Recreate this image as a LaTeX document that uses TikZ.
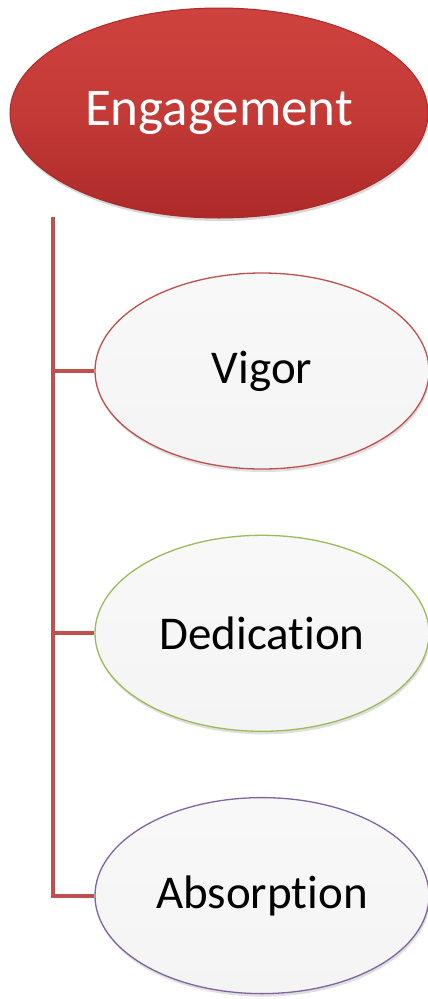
\documentclass[tikz,border=0pt]{standalone}
\usepackage{fontspec}
\setmainfont{Carlito}[RawFeature={-liga;-clig;-calt;-dlig}]
\usetikzlibrary{positioning,shapes.geometric,shadows}
\definecolor{rootred}{RGB}{196,58,55}
\definecolor{rootdark}{RGB}{172,42,40}
\definecolor{rootlight}{RGB}{206,66,62}
\definecolor{linkred}{RGB}{192,80,77}
\definecolor{leafgray}{RGB}{244,244,244}
\definecolor{vigorred}{RGB}{192,80,77}
\definecolor{dedgreen}{RGB}{155,187,89}
\definecolor{abspurple}{RGB}{128,100,162}
\tikzset{
 root/.style={ellipse,draw=rootdark,line width=1pt,top color=rootlight,bottom color=rootdark,middle color=rootred,minimum width=418pt,minimum height=210pt,inner sep=0pt,text=white,font=\fontsize{53}{60}\selectfont,drop shadow={opacity=0.3,shadow xshift=1pt,shadow yshift=-3pt}},
 leaf/.style={ellipse,line width=1.3pt,top color=leafgray!60!white,bottom color=leafgray,minimum width=334pt,minimum height=196pt,inner sep=0pt,text=black,font=\fontsize{47}{54}\selectfont,drop shadow={opacity=0.25,shadow xshift=1pt,shadow yshift=-3pt}},
 branch/.style={draw=linkred,line width=4pt}}
\begin{document}
\begin{tikzpicture}[x=1pt,y=-1pt]
\useasboundingbox[fill=white] (0,0) rectangle (428,999);
\node[root] (engagement) at (219,113) {Engagement};
\node[leaf,draw=vigorred] (vigor) at (262,371) {Vigor};
\node[leaf,draw=dedgreen,below=65pt of vigor] (dedication) {Dedication};
\node[leaf,draw=abspurple,below=65pt of dedication] (absorption) {Absorption};
\coordinate (trunk) at (53,217);
\draw[branch] (trunk) |- (absorption.west);
\draw[branch] (trunk |- vigor.west) -- (vigor.west);
\draw[branch] (trunk |- dedication.west) -- (dedication.west);
\end{tikzpicture}
\end{document}
